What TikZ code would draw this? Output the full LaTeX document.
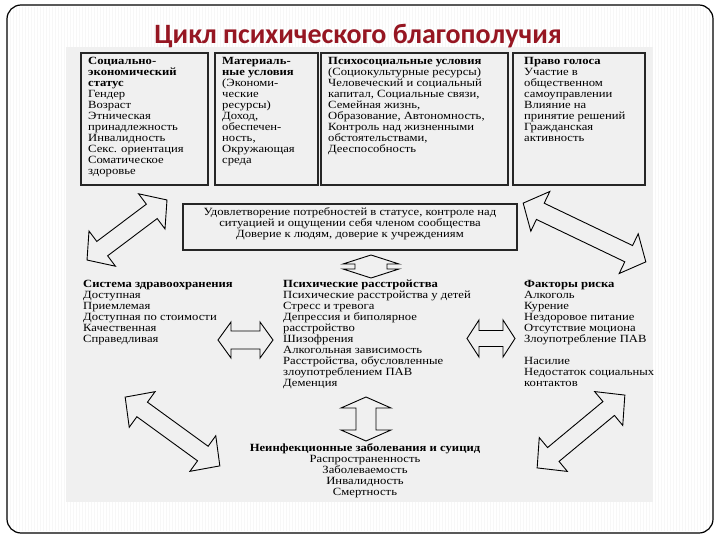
\documentclass[tikz,border=0pt]{standalone}
\usepackage{fontspec}
\setmainfont{Liberation Serif}[FakeStretch=1.15]
\newfontfamily\titlefont{Carlito}
\definecolor{titlered}{RGB}{150,22,34}
\definecolor{picbg}{RGB}{240,240,240}
\definecolor{stripecol}{RGB}{247,247,247}
\tikzset{
  box/.style={draw=black!85, line width=1.3pt, fill=picbg, inner sep=0pt},
  txt/.style={inner sep=0pt, align=left, anchor=north west, font=\fontsize{11}{11}\selectfont},
  ctxt/.style={inner sep=0pt, align=center, anchor=north, font=\fontsize{11}{11}\selectfont},
  barrow/.style={draw=black, line width=0.9pt, fill=picbg, line join=miter},
}
\newcommand{\blockarrow}[7]{%
  \begin{scope}[shift={(#1,#2)},rotate=#3]
  \draw[barrow] ({-#4/2},0) -- ({-#4/2+#7},{#5}) -- ({-#4/2+#7},{#6}) -- ({#4/2-#7},{#6})
    -- ({#4/2-#7},{#5}) -- ({#4/2},0) -- ({#4/2-#7},{-#5}) -- ({#4/2-#7},{-#6})
    -- ({-#4/2+#7},{-#6}) -- ({-#4/2+#7},{-#5}) -- cycle;
  \end{scope}}
\begin{document}
\begin{tikzpicture}[x=1pt,y=-1pt]
\useasboundingbox (0,0) rectangle (720,540);
\fill[white] (0,0) rectangle (720,540);
% slide background stripes and frame
\foreach \sx in {10,13,...,710} \draw[stripecol, line width=1pt] (\sx,7) -- (\sx,531);
\draw[black, line width=1.2pt, rounded corners=14pt] (7,5) rectangle (713,533);
% picture area
\fill[picbg] (66,47) rectangle (653,502);
% title
\node[font=\titlefont\bfseries\fontsize{28}{28}\selectfont, text=titlered, anchor=base, inner sep=0pt] (title) at (358,44) {Цикл психического благополучия};
% top boxes
\node[box, minimum width=127pt, minimum height=132pt] (b1) at (144.5,119) {};
\node[box, minimum width=103pt, minimum height=132pt] (b2) at (266.5,119) {};
\node[box, minimum width=187pt, minimum height=132pt] (b3) at (414.5,119) {};
\node[box, minimum width=132pt, minimum height=132pt] (b4) at (579,119) {};
\node[txt] (b1t) at (88,57) {\textbf{Социально-}\\\textbf{экономический}\\\textbf{статус}\\Гендер\\Возраст\\Этническая\\принадлежность\\Инвалидность\\Секс. ориентация\\Соматическое\\здоровье};
\node[txt] (b2t) at (222,57) {\textbf{Материаль-}\\\textbf{ные условия}\\(Экономи-\\ческие\\ресурсы)\\Доход,\\обеспечен-\\ность,\\Окружающая\\среда};
\node[txt] (b3t) at (328,57) {\textbf{Психосоциальные условия}\\(Социокультурные ресурсы)\\Человеческий и социальный\\капитал, Социальные связи,\\Семейная жизнь,\\Образование, Автономность,\\Контроль над жизненными\\обстоятельствами,\\Дееспособность};
\node[txt] (b4t) at (524,57) {\textbf{Право голоса}\\Участие в\\общественном\\самоуправлении\\Влияние на\\принятие решений\\Гражданская\\активность};
% middle box
\node[box, minimum width=334pt, minimum height=46pt] (mid) at (350,227) {};
\node[ctxt] (midt) at (350,207) {Удовлетворение потребностей в статусе, контроле над\\ситуацией и ощущении себя членом сообщества\\Доверие к людям, доверие к учреждениям};
% lower blocks
\node[txt] (hs) at (83,280) {\textbf{Система здравоохранения}\\Доступная\\Приемлемая\\Доступная по стоимости\\Качественная\\Справедливая};
\node[txt] (md) at (283,280) {\textbf{Психические расстройства}\\Психические расстройства у детей\\Стресс и тревога\\Депрессия и биполярное\\расстройство\\Шизофрения\\Алкогольная зависимость\\Расстройства, обусловленные\\злоупотреблением ПАВ\\Деменция};
\node[txt] (rf) at (524,280) {\textbf{Факторы риска}\\Алкоголь\\Курение\\Нездоровое питание\\Отсутствие моциона\\Злоупотребление ПАВ\\[11pt]Насилие\\Недостаток социальных\\контактов};
\node[ctxt] (nc) at (365,443) {\textbf{Неинфекционные заболевания и суицид}\\Распространенность\\Заболеваемость\\Инвалидность\\Смертность};
% block arrows: cx, cy, angle, length, head half-width, shaft half-width, head length
\blockarrow{127}{230}{36.9}{100}{22}{9}{19}
\blockarrow{584.5}{232.5}{-25.6}{136}{22}{9}{19}
\blockarrow{172.5}{431.5}{-36}{117}{22}{9}{21}
\blockarrow{581}{431.5}{39.7}{114}{22}{9}{21}
\blockarrow{371}{266.5}{90}{23}{28}{16}{9}
\blockarrow{366}{419}{90}{44}{25}{10}{11}
\blockarrow{245.5}{340}{0}{55}{18}{9}{13}
\blockarrow{491}{338.5}{0}{48}{18.5}{8}{12}
\end{tikzpicture}
\end{document}
